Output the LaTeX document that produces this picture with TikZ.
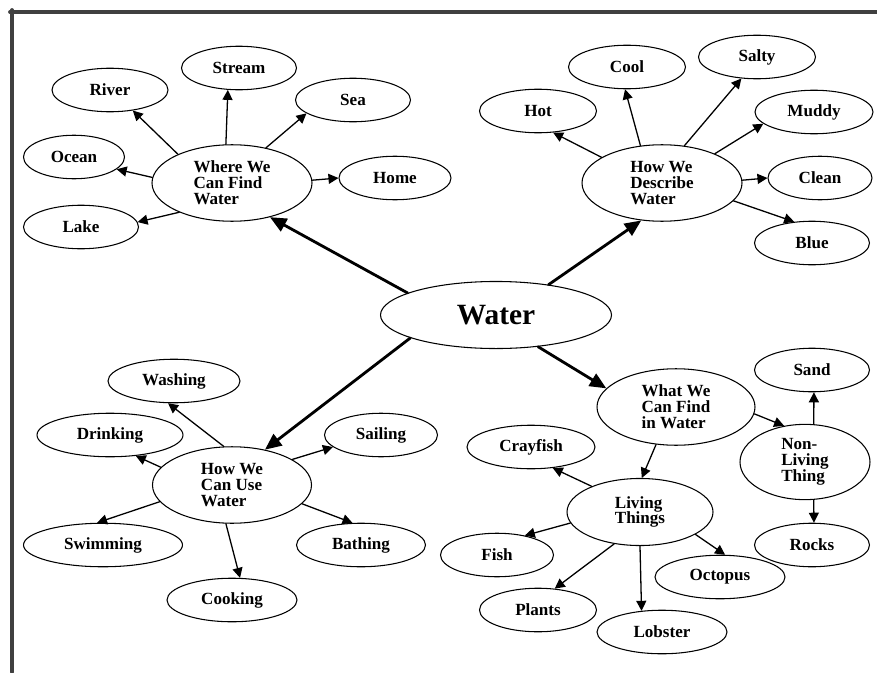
\documentclass[tikz,border=0pt]{standalone}
\usepackage{fontspec}
\setmainfont{Liberation Serif}
\usetikzlibrary{shapes.geometric,arrows.meta}

\begin{document}
\begin{tikzpicture}[x=.85pt,y=-.85pt,line cap=round,
    every node/.style={font=\fontsize{14.5}{13.5}\selectfont\bfseries},
    leaf/.style={draw,ellipse,line width=.9pt,inner sep=0pt,minimum height=37pt,minimum width=#1*.85pt},
    leaf/.default=115,
    hub/.style={draw,ellipse,line width=.9pt,inner sep=0pt,minimum height=65pt,minimum width=#1*.85pt,align=left},
    hub/.default=160,
    link/.style={line width=1.1pt,-{Triangle[length=8.5pt,width=8.5pt]}},
    trunk/.style={line width=2.4pt,-{Triangle[length=14pt,width=12pt]}}]
  \useasboundingbox (0,0) rectangle (877,672);
  \draw[black!75,line width=3.2pt] (10,12) -- (877,12);
  \draw[black!75,line width=3.2pt] (12,10) -- (12,672);

  % centre
  \node[hub=231,minimum height=57pt,font=\fontsize{25}{25}\selectfont\bfseries] (water) at (496,315) {Water};
  \node[hub] (where) at (232,183) {Where We\\Can Find\\Water};
  \node[hub] (describe) at (662,183) {How We\\Describe\\Water};
  \node[hub=159] (use) at (232,485) {How We\\Can Use\\Water};
  \node[hub=158] (what) at (676,407) {What We\\Can Find\\in Water};
  \node[hub=146,minimum height=57pt] (living) at (640,512) {Living\\Things};
  \node[hub=130,minimum height=64pt] (nonliving) at (805,462) {Non-\\Living\\Thing};

  % where
  \node[leaf=116] (river) at (110,90) {River};
  \node[leaf] (stream) at (239,68) {Stream};
  \node[leaf] (sea) at (353,100) {Sea};
  \node[leaf=101] (ocean) at (74,157) {Ocean};
  \node[leaf=112] (home) at (395,178) {Home};
  \node[leaf] (lake) at (81,227) {Lake};

  % describe
  \node[leaf=117] (hot) at (538,111) {Hot};
  \node[leaf=117] (cool) at (627,67) {Cool};
  \node[leaf=117] (salty) at (757,57) {Salty};
  \node[leaf=118] (muddy) at (814,112) {Muddy};
  \node[leaf=104] (clean) at (820,178) {Clean};
  \node[leaf] (blue) at (812,243) {Blue};

  % use
  \node[leaf=132] (washing) at (174,381) {Washing};
  \node[leaf=146] (drinking) at (110,435) {Drinking};
  \node[leaf=113] (sailing) at (381,435) {Sailing};
  \node[leaf=159] (swimming) at (103,545) {Swimming};
  \node[leaf=129] (bathing) at (361,545) {Bathing};
  \node[leaf=130] (cooking) at (232,600) {Cooking};

  % what
  \node[leaf] (sand) at (812,370) {Sand};
  \node[leaf] (rocks) at (812,545) {Rocks};
  \node[leaf=128] (crayfish) at (531,447) {Crayfish};
  \node[leaf=113] (fish) at (497,555) {Fish};
  \node[leaf=130] (octopus) at (720,577) {Octopus};
  \node[leaf=117] (plants) at (538,610) {Plants};
  \node[leaf=130] (lobster) at (662,632) {Lobster};

  \draw[trunk] (water.166) -- (where.-42);
  \draw[trunk] (water.30) -- (describe.-119);
  \draw[trunk] (water.-165) -- (use.47);
  \draw[trunk] (water.-37) -- (what.165);

  \draw[link] (where.152) -- (river.-42);
  \draw[link] (where.99) -- (stream.-117);
  \draw[link] (where.46) -- (sea.-164);
  \draw[link] (where.176) -- (ocean.-16);
  \draw[link] (where.2) -- (home.180);
  \draw[link] (where.-151) -- (lake.5);

  \draw[link] (describe.157) -- (hot.-55);
  \draw[link] (describe.120) -- (cool.-95);
  \draw[link] (describe.59) -- (salty.-126);
  \draw[link] (describe.29) -- (muddy.-167);
  \draw[link] (describe.2) -- (clean.180);
  \draw[link] (describe.-14) -- (blue.130);

  \draw[link] (use.102) -- (washing.-105);
  \draw[link] (use.166) -- (drinking.-39);
  \draw[link] (use.23) -- (sailing.-166);
  \draw[link] (use.-167) -- (swimming.105);
  \draw[link] (use.-15) -- (bathing.111);
  \draw[link] (use.-99) -- (cooking.70);

  \draw[link] (what.-5) -- (nonliving.120);
  \draw[link] (what.-118) -- (living.87);
  \draw[link] (nonliving.77) -- (sand.-85);
  \draw[link] (nonliving.-77) -- (rocks.85);

  \draw[link] (living.152) -- (crayfish.-44);
  \draw[link] (living.-171) -- (fish.35);
  \draw[link] (living.-129) -- (plants.52);
  \draw[link] (living.-90) -- (lobster.134);
  \draw[link] (living.-22) -- (octopus.77);
\end{tikzpicture}
\end{document}
